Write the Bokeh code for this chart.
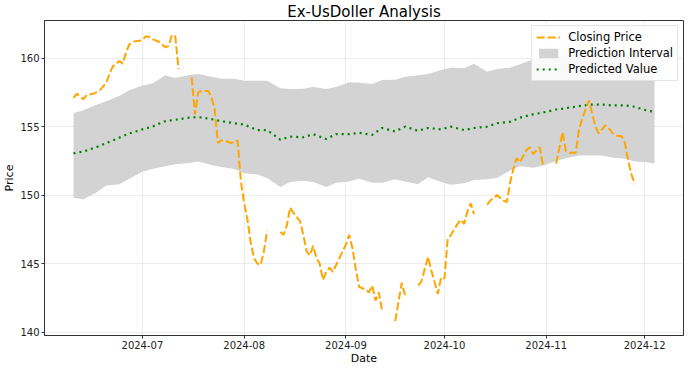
import numpy as np
import pandas as pd
from bokeh.plotting import figure
from bokeh.models import Legend, LegendItem, FixedTicker, Range1d, ColumnDataSource
from bokeh.embed import file_html
from bokeh.resources import INLINE

# ---------------- data ----------------
close_dates = [
    "2024-06-10", "2024-06-11", "2024-06-13", "2024-06-14", "2024-06-16", "2024-06-18", "2024-06-20",
    "2024-06-21", "2024-06-22", "2024-06-24", "2024-06-25", "2024-06-26", "2024-06-27", "2024-06-28",
    "2024-07-01", "2024-07-02", "2024-07-03", "2024-07-04", "2024-07-06", "2024-07-08", "2024-07-09",
    "2024-07-10", "2024-07-11", "2024-07-12", "2024-07-14",
    "2024-07-16", "2024-07-17", "2024-07-18", "2024-07-19", "2024-07-21", "2024-07-22", "2024-07-23",
    "2024-07-24", "2024-07-25", "2024-07-27", "2024-07-28", "2024-07-29", "2024-07-30", "2024-07-31",
    "2024-08-01", "2024-08-02", "2024-08-03", "2024-08-04", "2024-08-05", "2024-08-06", "2024-08-07",
    "2024-08-08", "2024-08-10",
    "2024-08-12", "2024-08-13", "2024-08-14", "2024-08-15", "2024-08-16", "2024-08-18", "2024-08-19",
    "2024-08-20", "2024-08-21", "2024-08-22", "2024-08-23", "2024-08-24", "2024-08-25", "2024-08-26",
    "2024-08-27", "2024-08-28", "2024-08-30",
    "2024-09-01", "2024-09-02", "2024-09-03", "2024-09-04", "2024-09-05", "2024-09-07", "2024-09-08",
    "2024-09-09", "2024-09-10", "2024-09-11", "2024-09-12", "2024-09-14",
    "2024-09-16", "2024-09-18", "2024-09-19", "2024-09-21",
    "2024-09-23", "2024-09-24", "2024-09-26", "2024-09-27", "2024-09-29", "2024-09-30",
    "2024-10-01", "2024-10-02", "2024-10-03", "2024-10-04", "2024-10-05", "2024-10-06", "2024-10-07",
    "2024-10-08", "2024-10-09", "2024-10-10", "2024-10-12",
    "2024-10-14", "2024-10-15", "2024-10-17", "2024-10-19", "2024-10-20", "2024-10-21", "2024-10-22",
    "2024-10-23", "2024-10-24", "2024-10-26", "2024-10-27", "2024-10-28", "2024-10-30", "2024-10-31",
    "2024-11-02",
    "2024-11-04", "2024-11-05", "2024-11-06", "2024-11-07", "2024-11-08", "2024-11-10", "2024-11-11",
    "2024-11-12", "2024-11-14", "2024-11-15", "2024-11-16", "2024-11-17", "2024-11-18", "2024-11-19",
    "2024-11-20", "2024-11-21", "2024-11-22", "2024-11-24", "2024-11-25", "2024-11-26", "2024-11-27",
    "2024-11-28",
]
close_values = [
    157.1, 157.4, 157.0, 157.3, 157.4, 157.65, 158.2,
    158.9, 159.4, 159.8, 159.6, 160.4, 161.0, 161.2,
    161.3, 161.6, 161.55, 161.4, 161.2, 160.8, 160.9,
    161.7, 161.6, 159.2, None,
    158.6, 155.9, 157.5, 157.6, 157.6, 157.2, 156.3,
    153.8, 154.0, 153.9, 153.8, 153.9, 154.0, 151.0,
    149.4, 148.2, 146.5, 145.4, 145.0, 144.9, 145.9,
    147.4, None,
    147.3, 147.1, 147.8, 149.1, 148.7, 148.1, 147.1,
    145.9, 145.6, 146.3, 145.4, 145.0, 143.8, 144.4,
    144.7, 144.4, 145.4,
    146.4, 147.1, 146.1, 144.6, 143.3, 143.1, 142.9,
    143.4, 142.3, 142.9, 141.6, None,
    140.8, 143.6, 142.7, None,
    143.4, 143.7, 145.5, 144.5, 142.8, 144.0,
    143.9, 146.8, 147.1, 147.5, 147.9, 148.2, 147.9,
    148.8, 149.4, 148.6, None,
    149.3, 149.6, 150.0, 149.6, 149.5, 150.9, 151.9,
    152.7, 152.4, 153.3, 153.5, 153.0, 153.5, 152.2,
    None,
    152.3, 153.4, 154.6, 153.2, 153.1, 153.1, 154.8,
    155.6, 156.9, 156.0, 155.0, 154.5, 154.8, 155.1,
    154.9, 154.6, 154.35, 154.3, 153.8, 152.5, 151.5,
    150.8,
]

pred_dates = [
    "2024-06-10", "2024-06-13", "2024-06-17", "2024-06-20", "2024-06-24", "2024-06-27",
    "2024-07-01", "2024-07-04", "2024-07-08", "2024-07-11", "2024-07-15", "2024-07-18", "2024-07-22",
    "2024-07-25", "2024-07-29",
    "2024-08-01", "2024-08-05", "2024-08-08", "2024-08-12", "2024-08-15", "2024-08-19", "2024-08-22",
    "2024-08-26", "2024-08-29",
    "2024-09-02", "2024-09-05", "2024-09-09", "2024-09-12", "2024-09-16", "2024-09-19", "2024-09-23",
    "2024-09-26", "2024-09-30",
    "2024-10-03", "2024-10-07", "2024-10-10", "2024-10-14", "2024-10-17", "2024-10-21", "2024-10-24",
    "2024-10-28", "2024-10-31",
    "2024-11-04", "2024-11-07", "2024-11-11", "2024-11-14", "2024-11-18", "2024-11-21", "2024-11-25",
    "2024-11-28",
    "2024-12-02", "2024-12-04",
]
pred_values = [
    153.05, 153.18, 153.5, 153.8, 154.2, 154.5,
    154.8, 155.0, 155.4, 155.5, 155.65, 155.7, 155.55, 155.4, 155.25,
    155.15, 154.75, 154.75, 154.05, 154.27, 154.22, 154.45, 154.1, 154.46,
    154.45, 154.55, 154.4, 154.9, 154.65, 155.0, 154.7, 154.9, 154.8,
    155.0, 154.75, 154.9, 155.0, 155.25, 155.35, 155.66, 155.9, 156.03,
    156.25, 156.35, 156.5, 156.6, 156.62, 156.55, 156.55, 156.45,
    156.15, 156.1,
]
upper_values = [
    156.0, 156.2, 156.6, 156.85, 157.25, 157.65,
    158.0, 158.15, 158.75, 158.55, 158.75, 158.85, 158.65, 158.5, 158.5,
    158.35, 158.35, 158.35, 157.8, 157.75, 157.77, 157.9, 157.75, 157.9,
    158.25, 158.2, 158.12, 158.4, 158.42, 158.65, 158.75, 158.85, 159.14,
    159.3, 159.26, 159.6, 159.0, 159.2, 159.3, 159.55, 159.9, 160.0,
    160.1, 160.2, 160.3, 160.4, 160.4, 160.3, 160.3, 160.2,
    159.9, 159.9,
]
lower_values = [
    149.8, 149.7, 150.2, 150.7, 150.8, 151.2,
    151.7, 151.9, 152.1, 152.25, 152.35, 152.45, 152.2, 152.05, 151.9,
    151.6, 151.5, 151.25, 150.6, 150.95, 151.05, 150.95, 150.6, 150.9,
    151.0, 151.2, 150.9, 150.9, 151.15, 151.0, 150.8, 151.3, 150.95,
    150.75, 150.86, 151.1, 151.15, 151.25, 151.8, 152.1, 152.0, 152.15,
    152.5, 152.7, 152.9, 152.9, 152.9, 152.75, 152.65, 152.45,
    152.4, 152.3,
]

month_ticks = ["2024-07-01", "2024-08-01", "2024-09-01", "2024-10-01", "2024-11-01", "2024-12-01"]
month_labels = ["2024-07", "2024-08", "2024-09", "2024-10", "2024-11", "2024-12"]
price_ticks = [140, 145, 150, 155, 160]
price_labels = ["140", "145", "150", "155", "160"]

# ---------------- sources ----------------
close_src = ColumnDataSource(dict(
    x=pd.to_datetime(close_dates),
    y=np.array([np.nan if v is None else v for v in close_values], dtype=float),
))
pred_src = ColumnDataSource(dict(
    x=pd.to_datetime(pred_dates),
    y=np.array(pred_values, dtype=float),
    lo=np.array(lower_values, dtype=float),
    hi=np.array(upper_values, dtype=float),
))

FONT = "DejaVu Sans"

p = figure(
    width=684, height=367,
    x_axis_type="datetime",
    x_range=Range1d(pd.Timestamp("2024-06-01 04:00"), pd.Timestamp("2024-12-12 20:00")),
    y_range=Range1d(139.75, 162.75),
    output_backend="svg", toolbar_location=None,
    min_border_left=39, min_border_right=1, min_border_top=16, min_border_bottom=29,
    title="Ex-UsDoller Analysis",
)

p.title.text_font = FONT
p.title.text_font_size = "15px"
p.title.text_font_style = "normal"
p.title.align = "center"
p.title.standoff = 0
p.title.text_color = "#000000"

r_int = p.varea(x="x", y1="lo", y2="hi", source=pred_src, fill_color="#d3d3d3", fill_alpha=1.0)
r_pred = p.line(x="x", y="y", source=pred_src, line_color="#008000", line_width=2.2,
                line_dash="2 4")
r_close = p.line(x="x", y="y", source=close_src, line_color="#FFA500", line_width=2.0,
                 line_dash="8 3")

# axes
tick_ms = [pd.Timestamp(t).value / 1e6 for t in month_ticks]
p.xaxis.ticker = FixedTicker(ticks=tick_ms)
p.xaxis.major_label_overrides = {t: lab for t, lab in zip(tick_ms, month_labels)}
p.yaxis.ticker = FixedTicker(ticks=price_ticks)
p.yaxis.major_label_overrides = {t: lab for t, lab in zip(price_ticks, price_labels)}

p.xaxis.axis_label = "Date"
p.yaxis.axis_label = "Price"
for ax in (p.xaxis, p.yaxis):
    ax.axis_label_text_font = FONT
    ax.axis_label_text_font_size = "11px"
    ax.axis_label_text_font_style = "normal"
    ax.axis_label_text_color = "#000000"
    ax.major_label_text_font = FONT
    ax.major_label_text_font_size = "10px"
    ax.major_label_text_color = "#222222"
    ax.axis_line_color = "#333333"
    ax.major_tick_line_color = "#333333"
    ax.major_tick_out = 3
    ax.major_tick_in = 0
    ax.minor_tick_out = 0
    ax.minor_tick_in = 0
    ax.major_label_standoff = 2
    ax.axis_label_standoff = 0
p.yaxis.axis_label_standoff = 1

p.outline_line_color = "#333333"
p.outline_line_width = 1
p.grid.grid_line_color = "#b0b0b0"
p.grid.grid_line_alpha = 0.3
p.grid.grid_line_width = 0.8
p.xgrid.ticker = FixedTicker(ticks=tick_ms)
p.ygrid.ticker = FixedTicker(ticks=price_ticks)
p.background_fill_color = "white"
p.border_fill_color = "white"

legend = Legend(items=[
    LegendItem(label="Closing Price", renderers=[r_close]),
    LegendItem(label="Prediction Interval", renderers=[r_int]),
    LegendItem(label="Predicted Value", renderers=[r_pred]),
], location="top_right")
legend.label_text_font = FONT
legend.label_text_font_size = "11.5px"
legend.label_text_color = "#000000"
legend.glyph_width = 24
legend.glyph_height = 12
legend.spacing = 2
legend.padding = 4
legend.margin = 5
legend.label_standoff = 8
legend.label_height = 12
legend.border_line_color = "#cccccc"
legend.border_line_width = 1
legend.background_fill_alpha = 0.85
p.add_layout(legend)

open("out.html", "w").write(file_html(p, INLINE))
